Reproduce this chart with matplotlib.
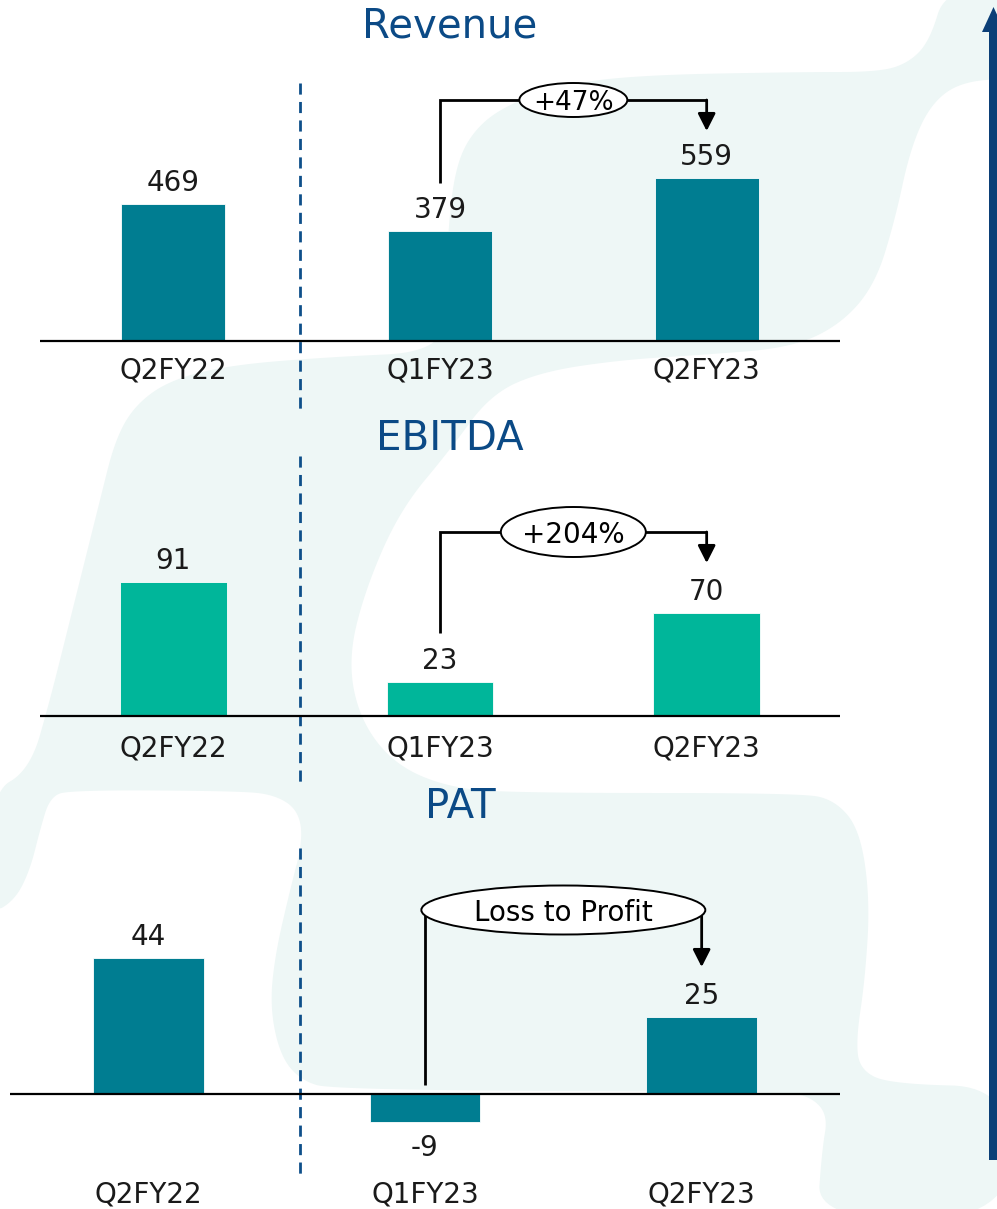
import numpy as np
import matplotlib
matplotlib.use("Agg")
import matplotlib.pyplot as plt
from matplotlib.patches import Polygon, Ellipse

plt.rcParams["font.family"] = ["DejaVu Sans"]
plt.rcParams["lines.scale_dashes"] = False

# ---- data ----
periods = ["Q2FY22", "Q1FY23", "Q2FY23"]
revenue = [469, 379, 559]
ebitda = [91, 23, 70]
pat = [44, -9, 25]
growth_labels = ["+47%", "+204%", "Loss to Profit"]
titles = ["Revenue", "EBITDA", "PAT"]

# ---- styling ----
TEAL = "#007D91"
GREEN = "#00B69A"
NAVY = "#0B4A86"
DASH = "#0E4F8A"
ARROW = "#0B3F77"
TINT = "#EEF7F6"
INK = "#1a1a1a"

W, H, DPI = 997, 1209, 100
PT = 72.0 / DPI  # points per pixel

fig = plt.figure(figsize=(W / DPI, H / DPI), dpi=DPI)
fig.patch.set_facecolor("white")

# background canvas in pixel units (y grows downward)
bg = fig.add_axes([0, 0, 1, 1], zorder=0)
bg.set_xlim(0, W)
bg.set_ylim(H, 0)
bg.axis("off")


def chaikin(pts, n=3):
    p = np.asarray(pts, float)
    for _ in range(n):
        q = np.roll(p, -1, axis=0)
        new = np.empty((2 * len(p), 2))
        new[0::2] = 0.75 * p + 0.25 * q
        new[1::2] = 0.25 * p + 0.75 * q
        p = new
    return p


backdrop = [
    (945, -10), (1012, -10), (1012, 78), (960, 82), (930, 105), (910, 150),
    (895, 220), (875, 285), (840, 325), (790, 348), (700, 355), (620, 360),
    (540, 372), (490, 395), (450, 450), (400, 510), (365, 590), (348, 660),
    (360, 720), (395, 765), (450, 788), (520, 793), (800, 793), (835, 800),
    (860, 830), (870, 900), (865, 980), (856, 1040), (860, 1070), (890, 1084),
    (1012, 1087), (1012, 1220), (817, 1220), (822, 1150), (828, 1115),
    (810, 1096), (780, 1092), (333, 1090), (300, 1080), (280, 1055),
    (270, 1007), (275, 955), (290, 890), (303, 840), (298, 810), (275, 795),
    (240, 791), (70, 790), (50, 797), (40, 830), (30, 870), (15, 900),
    (-10, 915), (-10, 793), (30, 770), (50, 700), (70, 620), (100, 500),
    (115, 440), (135, 405), (170, 380), (230, 365), (330, 357), (440, 352),
    (446, 300), (448, 230), (455, 170), (470, 135), (500, 108), (560, 85),
    (640, 75), (800, 72), (880, 72), (910, 62), (930, 40),
]
bg.add_patch(Polygon(chaikin(backdrop, 4), closed=True, facecolor=TINT,
                     edgecolor="none", zorder=0))

# vertical growth arrow along the right edge
bg.add_patch(Polygon([(989, 1160), (998, 1160), (998, 32), (1005, 32),
                      (993.5, 7), (982, 32), (989, 32)], closed=True,
                     facecolor=ARROW, edgecolor="none", zorder=1))

# dashed separators between last year and this year
for y0, y1 in [(83, 410), (456, 785), (848, 1175)]:
    bg.plot([300, 300], [y0, y1], color=DASH, lw=2.0,
            linestyle=(0, (8, 5.3)), solid_capstyle="butt", zorder=1)

# panel titles
for name, (tx, ty) in zip(titles, [(450, 38), (450, 450), (460, 818)]):
    fig.text(tx / W, 1 - ty / H, name, ha="center", va="baseline",
             fontsize=29, color=NAVY, zorder=5)


def panel(left, right, base, top, bottom, scale):
    ax = fig.add_axes([left / W, 1 - bottom / H, (right - left) / W,
                       (bottom - top) / H], zorder=2)
    ax.set_xlim(-0.5, 2.5)
    ax.set_ylim(-(bottom - base) / scale, (base - top) / scale)
    ax.axis("off")
    ax.patch.set_alpha(0)
    ax.axhline(0, color="black", lw=1.6, zorder=3)
    return ax


def draw_bars(ax, values, color, width, cat_drop):
    x = np.arange(len(values))
    ax.bar(x, values, width=width, color=color, edgecolor="white",
           linewidth=0.6, zorder=2)
    for i, v in enumerate(values):
        off = 13 * PT if v >= 0 else -34 * PT
        ax.annotate(f"{v}", (i, v), xytext=(0, off), textcoords="offset points",
                    ha="center", va="baseline", fontsize=20, color=INK,
                    annotation_clip=False)
        ax.annotate(periods[i], (i, 0), xytext=(0, -cat_drop * PT),
                    textcoords="offset points", ha="center", va="baseline",
                    fontsize=20, color=INK, annotation_clip=False)


def connector(ax, y_start, y_mid, y_tip, label, fs, ew, eh):
    x0, x1 = 1, 2
    ax.plot([x0, x0, x1], [y_start, y_mid, y_mid], color="black", lw=2.0,
            solid_joinstyle="miter", solid_capstyle="butt", zorder=4,
            clip_on=False)
    ax.annotate("", xy=(x1, y_tip), xytext=(x1, y_mid),
                arrowprops=dict(arrowstyle="-|>,head_length=0.75,head_width=0.38",
                                mutation_scale=14, color="black", lw=2.0,
                                shrinkA=0, shrinkB=0),
                zorder=4, annotation_clip=False)
    ax.add_patch(Ellipse(((x0 + x1) / 2, y_mid), ew, eh, facecolor="white",
                         edgecolor="black", lw=1.4, zorder=5, clip_on=False))
    ax.text((x0 + x1) / 2, y_mid, label, ha="center", va="center_baseline",
            fontsize=fs, color="black", zorder=6)


# Revenue
s_rev = 0.2915
ax1 = panel(40, 840, 341, 60, 400, s_rev)
draw_bars(ax1, revenue, TEAL, 0.39, 37)
connector(ax1, (341 - 183) / s_rev, (341 - 100) / s_rev, (341 - 131) / s_rev,
          growth_labels[0], 19, 108 / 266.7, 34 / s_rev)

# EBITDA
s_ebi = 1.47
ax2 = panel(40, 840, 716, 470, 790, s_ebi)
draw_bars(ax2, ebitda, GREEN, 0.40, 40)
connector(ax2, (716 - 633) / s_ebi, (716 - 532) / s_ebi, (716 - 563) / s_ebi,
          growth_labels[1], 20, 145 / 266.7, 50 / s_ebi)

# PAT
s_pat = 3.09
ax3 = panel(10, 840, 1094, 870, 1200, s_pat)
draw_bars(ax3, pat, TEAL, 0.40, 108)
connector(ax3, (1094 - 1085) / s_pat, (1094 - 910) / s_pat, (1094 - 967) / s_pat,
          growth_labels[2], 20, 284 / 276.7, 49 / s_pat)

fig.savefig("out.png", dpi=DPI, facecolor="white")
